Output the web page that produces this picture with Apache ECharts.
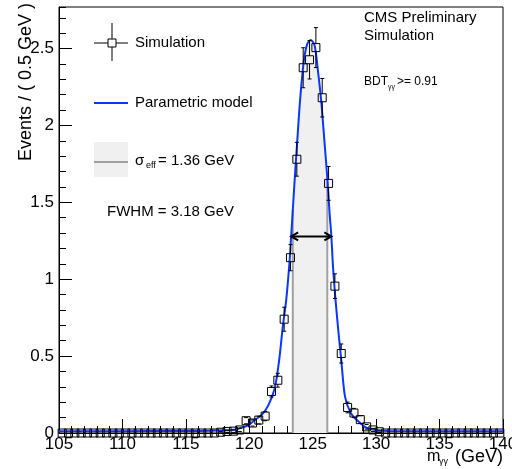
<!DOCTYPE html>
<html><head><meta charset="utf-8">
<script src="https://cdn.jsdelivr.net/npm/echarts@6/dist/echarts.min.js"></script>
<style>html,body{margin:0;padding:0;background:#fff;overflow:hidden;width:512px;height:469px}#c{width:512px;height:469px}</style>
</head><body><div id="c"></div>
<script>
// ---- data ----
const binCenters = [105.25,105.75,106.25,106.75,107.25,107.75,108.25,108.75,109.25,109.75,
110.25,110.75,111.25,111.75,112.25,112.75,113.25,113.75,114.25,114.75,
115.25,115.75,116.25,116.75,117.25,117.75,118.25,118.75,119.25,119.75,
120.25,120.75,121.25,121.75,122.25,122.75,123.25,123.75,124.25,124.75,
125.25,125.75,126.25,126.75,127.25,127.75,128.25,128.75,129.25,129.75,
130.25,130.75,131.25,131.75,132.25,132.75,133.25,133.75,134.25,134.75,
135.25,135.75,136.25,136.75,137.25,137.75,138.25,138.75,139.25,139.75];
const simValues = [0,0,0,0,0,0,0,0,0,0,
0,0,0,0,0,0,0,0,0,0,
0,0,0,0,0,0.005,0.01,0.012,0.02,0.08,
0.065,0.084,0.11,0.27,0.343,0.74,1.14,1.78,2.375,2.427,
2.506,2.18,1.623,0.955,0.517,0.166,0.13,0.087,0.04,0.02,
0.008,0,0,0,0,0,0,0,0,0,
0,0,0,0,0,0,0,0,0,0];
const simErrors = [0,0,0,0,0,0,0,0,0,0,
0,0,0,0,0,0,0,0,0,0,
0,0,0,0,0,0.005,0.007,0.008,0.01,0.02,
0.02,0.025,0.03,0.036,0.045,0.078,0.085,0.11,0.13,0.125,
0.13,0.125,0.11,0.08,0.062,0.035,0.03,0.025,0.015,0.01,
0.005,0,0,0,0,0,0,0,0,0,
0,0,0,0,0,0,0,0,0,0];
const curveMass = [105,110,115,117,118,118.5,119,119.5,120,120.25,120.5,121,121.5,122,122.35,122.64,122.91,123.17,123.3,123.43,123.62,123.83,124.02,124.3,124.57,124.85,125.15,125.41,125.67,125.94,126.15,126.33,126.47,126.6,126.8,127.04,127.25,127.55,128.0,128.57,129.23,130,131,135,140];
const curveValue = [0.012,0.012,0.013,0.015,0.018,0.02,0.025,0.037,0.055,0.072,0.088,0.12,0.18,0.29,0.47,0.69,0.864,1.11,1.278,1.45,1.70,1.96,2.18,2.42,2.53,2.556,2.52,2.357,2.16,1.88,1.66,1.43,1.278,1.08,0.864,0.647,0.474,0.235,0.13,0.078,0.034,0.02,0.013,0.012,0.012];
const sigmaLow = 123.43, sigmaHigh = 126.15;
const fwhmLow = 123.30, fwhmHigh = 126.47, halfMax = 1.278;
const xTicks = {min:105, max:140, interval:5};
const yTicks = {min:0, max:2.77, interval:0.5, minor:0.1};

// ---- build ----
const FONT = "'Liberation Sans', Arial, Helvetica, sans-serif";
const curveData = curveMass.map((m,i)=>[m,curveValue[i]]);
const bandData = curveData.filter(p=>p[0]>=sigmaLow-1e-9 && p[0]<=sigmaHigh+1e-9);
const edgeData = [bandData[0], bandData[bandData.length-1]];
const pointData = binCenters.map((m,i)=>[m,simValues[i],simErrors[i]]);

const chart = echarts.init(document.getElementById('c'), null, {renderer:'canvas', width:512, height:469});
const axisBase = {
  axisLine:{show:true, lineStyle:{color:'#000', width:1}},
  splitLine:{show:false},
};
chart.setOption({
  animation:false,
  backgroundColor:'#fff',
  grid:{left:59, right:9, top:7, bottom:36, show:true, borderColor:'#000', borderWidth:1, containLabel:false, outerBoundsMode:'none'},
  xAxis:[{
    type:'value', min:xTicks.min, max:xTicks.max, interval:xTicks.interval,
    ...axisBase,
    axisTick:{show:true, inside:true, length:14, lineStyle:{color:'#000'}},
    minorTick:{show:true, splitNumber:5, length:7, lineStyle:{color:'#000'}},
    axisLabel:{fontSize:17, fontFamily:FONT, color:'#000', margin:3, showMinLabel:true, showMaxLabel:true, hideOverlap:false}
  }],
  yAxis:[{
    type:'value', min:yTicks.min, max:yTicks.max, interval:yTicks.interval,
    ...axisBase,
    axisTick:{show:true, inside:true, length:13, lineStyle:{color:'#000'}},
    axisLabel:{fontSize:17, fontFamily:FONT, color:'#000', margin:5, showMaxLabel:false,
      formatter:v=>{ const r=Math.round(v*2)/2; return Math.abs(r-v)<1e-6 ? String(v) : ''; }}
  },{
    type:'value', min:yTicks.min, max:yTicks.max, interval:yTicks.minor, position:'left',
    axisLine:{show:false}, splitLine:{show:false}, axisLabel:{show:false},
    axisTick:{show:true, inside:true, length:7, lineStyle:{color:'#000'}}
  }],
  series:[
    {type:'line', data:bandData, smooth:0.3, showSymbol:false, z:1,
      lineStyle:{width:0}, areaStyle:{color:'#f0f0f0', opacity:1}},
    {type:'custom', data:edgeData, z:2,
      renderItem:(params, api)=>{
        const top = api.coord([api.value(0), api.value(1)]);
        const bot = api.coord([api.value(0), 0]);
        return {type:'line', shape:{x1:top[0], y1:top[1], x2:bot[0], y2:bot[1]},
          style:{stroke:'#a0a0a0', lineWidth:2}};
      }},
    {type:'line', data:curveData, smooth:0.3, showSymbol:false, z:3,
      lineStyle:{color:'#0a36ff', width:2}},
    {type:'custom', data:pointData, z:4,
      renderItem:(params, api)=>{
        const x=api.value(0), y=api.value(1), e=api.value(2);
        const p = api.coord([x,y]);
        const s = 4;
        const ch = [];
        if (e>0) {
          const t = api.coord([x,y+e]), b = api.coord([x,y-e]);
          if (t[1] < p[1]-s) ch.push({type:'line', shape:{x1:p[0],y1:p[1]-s,x2:p[0],y2:t[1]}, style:{stroke:'#000',lineWidth:1}});
          if (b[1] > p[1]+s) ch.push({type:'line', shape:{x1:p[0],y1:p[1]+s,x2:p[0],y2:b[1]}, style:{stroke:'#000',lineWidth:1}});
          ch.push({type:'line', shape:{x1:p[0]-2,y1:t[1],x2:p[0]+2,y2:t[1]}, style:{stroke:'#000',lineWidth:1}});
          ch.push({type:'line', shape:{x1:p[0]-2,y1:b[1],x2:p[0]+2,y2:b[1]}, style:{stroke:'#000',lineWidth:1}});
        }
        ch.push({type:'rect', shape:{x:p[0]-s, y:p[1]-s, width:2*s, height:2*s},
          style:{stroke:'#000', fill:'none', lineWidth:1}});
        return {type:'group', children:ch};
      }},
    {type:'custom', data:[[fwhmLow, fwhmHigh, halfMax]], z:5,
      renderItem:(params, api)=>{
        const a = api.coord([api.value(0), api.value(2)]);
        const b = api.coord([api.value(1), api.value(2)]);
        const st = {stroke:'#000', lineWidth:2, fill:'none'};
        return {type:'group', children:[
          {type:'line', shape:{x1:a[0],y1:a[1],x2:b[0],y2:b[1]}, style:st},
          {type:'polyline', shape:{points:[[a[0]+7,a[1]-4],[a[0],a[1]],[a[0]+7,a[1]+4]]}, style:st},
          {type:'polyline', shape:{points:[[b[0]-7,b[1]-4],[b[0],b[1]],[b[0]-7,b[1]+4]]}, style:st}
        ]};
      }}
  ],
  graphic:[
    {type:'text', x:26, y:3, rotation:Math.PI/2, style:{text:'Events / ( 0.5 GeV )', font:'18px '+FONT, fill:'#000', align:'right', verticalAlign:'middle'}},
    {type:'text', x:503, y:457, style:{text:'(GeV)', font:'18px '+FONT, fill:'#000', align:'right', verticalAlign:'middle'}},
    {type:'text', x:448, y:462, style:{text:'γγ', font:'9px '+FONT, fill:'#000', align:'right', verticalAlign:'middle'}},
    {type:'text', x:427, y:457, style:{text:'m', font:'16px '+FONT, fill:'#000', align:'left', verticalAlign:'middle'}},
    {type:'line', shape:{x1:94, y1:43, x2:128, y2:43}, style:{stroke:'#000', lineWidth:1}},
    {type:'line', shape:{x1:112, y1:23, x2:112, y2:61}, style:{stroke:'#000', lineWidth:1}},
    {type:'rect', shape:{x:108, y:39, width:8, height:8}, style:{stroke:'#000', fill:'#fff', lineWidth:1}},
    {type:'text', x:135, y:43, style:{text:'Simulation', font:'15px '+FONT, fill:'#000', verticalAlign:'middle'}},
    {type:'line', shape:{x1:94, y1:103, x2:128, y2:103}, style:{stroke:'#0a36ff', lineWidth:2}},
    {type:'text', x:135, y:103, style:{text:'Parametric model', font:'15px '+FONT, fill:'#000', verticalAlign:'middle'}},
    {type:'rect', shape:{x:94, y:142, width:34, height:35}, style:{fill:'#f0f0f0'}},
    {type:'line', shape:{x1:94, y1:162, x2:128, y2:162}, style:{stroke:'#a0a0a0', lineWidth:2}},
    {type:'text', x:135, y:161, style:{text:'σ', font:'15px '+FONT, fill:'#000', verticalAlign:'middle'}},
    {type:'text', x:146, y:166, style:{text:'eff', font:'9px '+FONT, fill:'#000', verticalAlign:'middle'}},
    {type:'text', x:158, y:161, style:{text:'= 1.36 GeV', font:'15px '+FONT, fill:'#000', verticalAlign:'middle'}},
    {type:'text', x:107, y:212, style:{text:'FWHM = 3.18 GeV', font:'15px '+FONT, fill:'#000', verticalAlign:'middle'}},
    {type:'text', x:364, y:18, style:{text:'CMS Preliminary', font:'15px '+FONT, fill:'#000', verticalAlign:'middle'}},
    {type:'text', x:364, y:36, style:{text:'Simulation', font:'15px '+FONT, fill:'#000', verticalAlign:'middle'}},
    {type:'text', x:364, y:82, style:{text:'BDT', font:'12px '+FONT, fill:'#000', verticalAlign:'middle'}},
    {type:'text', x:388, y:87, style:{text:'γγ', font:'7px '+FONT, fill:'#000', verticalAlign:'middle'}},
    {type:'text', x:397, y:82, style:{text:'>= 0.91', font:'12px '+FONT, fill:'#000', verticalAlign:'middle'}}
  ]
});
</script></body></html>
